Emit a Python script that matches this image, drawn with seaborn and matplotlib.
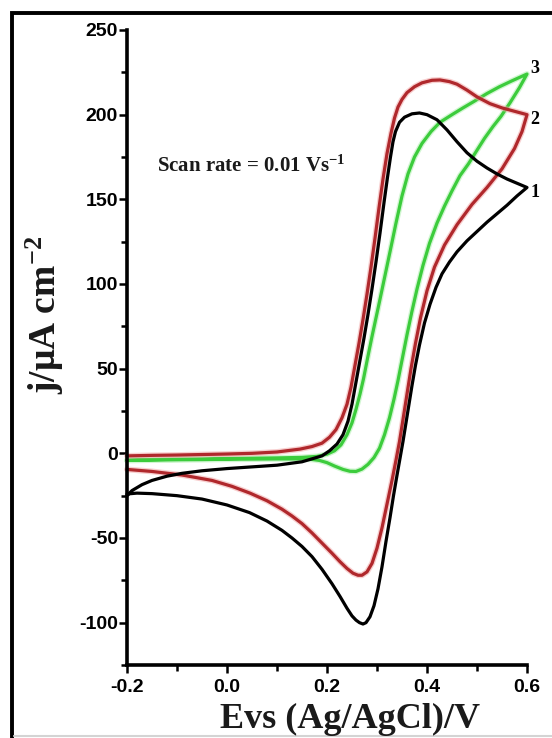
import matplotlib
matplotlib.use("Agg")
import matplotlib.pyplot as plt
import seaborn as sns
from matplotlib.ticker import MultipleLocator, FormatStrFormatter
from matplotlib.patches import Rectangle
from matplotlib.lines import Line2D

# ---- cyclic voltammograms (E in V vs Ag/AgCl, j in uA cm^-2) ----
# curve 1 (black)
e1_fwd = [-0.2, -0.19, -0.17, -0.15, -0.12, -0.09, -0.05, 0.0, 0.05, 0.1, 0.15, 0.19,
          0.205, 0.22, 0.232, 0.242, 0.25, 0.258, 0.266, 0.274, 0.282, 0.29, 0.298,
          0.306, 0.314, 0.321, 0.327, 0.332, 0.337, 0.345, 0.355, 0.37, 0.385, 0.40,
          0.42, 0.44, 0.46, 0.48, 0.50, 0.52, 0.54, 0.56, 0.58, 0.6]
j1_fwd = [-25, -22, -18.5, -16, -13.5, -11.8, -10.3, -9, -8, -7, -5, -1.5,
          1.5, 5.5, 11, 19, 29, 42, 55, 68, 82, 97, 113,
          130, 148, 163, 175, 184, 190, 195.5, 198.5, 200.5, 201, 200,
          197, 191, 184, 177.5, 172.5, 168.5, 165, 162, 159.5, 157]
e1_rev = [0.6, 0.58, 0.56, 0.54, 0.52, 0.5, 0.48, 0.46, 0.445, 0.43, 0.418, 0.406,
          0.395, 0.385, 0.377, 0.37, 0.364, 0.358, 0.352, 0.346, 0.34, 0.333, 0.326,
          0.318, 0.31, 0.302, 0.294, 0.286, 0.278, 0.272, 0.265, 0.258, 0.25, 0.24,
          0.226, 0.21, 0.19, 0.17, 0.15, 0.13, 0.11, 0.08, 0.045, 0.0, -0.05, -0.1,
          -0.15, -0.18, -0.2]
j1_rev = [157, 152, 146.5, 141.5, 136.5, 131, 125.5, 119, 113, 106, 98, 88,
          77, 64, 52, 40, 29, 18, 7, -3, -13, -25, -38,
          -52, -67, -80, -90, -96.5, -100, -100.8, -100, -98.5, -96, -91.5,
          -84.5, -77, -68.5, -61, -55, -50, -45.5, -40, -35, -30.5, -27, -25,
          -23.8, -23.5, -24]

# curve 2 (red)
e2_fwd = [-0.2, -0.15, -0.1, -0.05, 0.0, 0.05, 0.1, 0.146, 0.17, 0.19, 0.205, 0.218,
          0.23, 0.24, 0.248, 0.256, 0.264, 0.272, 0.28, 0.288, 0.296, 0.304, 0.312,
          0.32, 0.328, 0.335, 0.342, 0.35, 0.36, 0.375, 0.39, 0.41, 0.426, 0.445,
          0.46, 0.48, 0.5, 0.526, 0.55, 0.575, 0.6]
j2_fwd = [-1.5, -1.2, -1.0, -0.7, -0.4, 0.0, 0.8, 2.5, 4, 6, 9.5, 14,
          21, 29, 39, 52, 65, 79, 94, 110, 127, 145, 162,
          177, 189, 198, 204.5, 209, 213, 216.5, 218.8, 220.3, 220.5, 219.5,
          218, 214.5, 210.5, 206.5, 204, 202, 200]
e2_rev = [0.6, 0.59, 0.575, 0.55, 0.52, 0.49, 0.46, 0.435, 0.415, 0.4, 0.387, 0.377,
          0.368, 0.36, 0.352, 0.345, 0.338, 0.33, 0.32, 0.31, 0.3, 0.29, 0.28,
          0.27, 0.262, 0.252, 0.24, 0.226, 0.21, 0.19, 0.17, 0.15, 0.13, 0.11,
          0.08, 0.046, 0.01, -0.03, -0.09, -0.15, -0.2]
j2_rev = [200, 190, 180, 168, 157, 147, 135, 123, 110, 96, 80, 65,
          50, 35, 20, 7, -4, -16, -30, -44, -56, -65, -70,
          -72, -72, -70.8, -68, -64, -59, -53, -47, -41.5, -37, -33,
          -28, -23.5, -19.5, -16, -12.8, -10.7, -9.5]

# curve 3 (green)
e3_fwd = [-0.2, -0.15, -0.1, -0.05, 0.0, 0.05, 0.1, 0.15, 0.18, 0.2, 0.215, 0.228,
          0.24, 0.25, 0.258, 0.266, 0.273, 0.281, 0.29, 0.298, 0.306, 0.316, 0.326,
          0.338, 0.35, 0.362, 0.375, 0.39, 0.408, 0.426, 0.45, 0.472, 0.495, 0.52,
          0.545, 0.57, 0.6]
j3_fwd = [-4, -3.7, -3.5, -3.3, -3.1, -2.9, -2.7, -2.4, -1.8, -0.5, 1.5, 5,
          11, 18, 26, 35, 44, 56, 69, 80, 91, 105, 119,
          136, 152, 165, 175, 183, 190, 195.5, 200, 204, 208, 212.5,
          216.5, 220, 224]
e3_rev = [0.6, 0.585, 0.566, 0.548, 0.532, 0.515, 0.5, 0.483, 0.466, 0.45, 0.435, 0.42,
          0.405, 0.392, 0.38, 0.37, 0.36, 0.35, 0.342, 0.334, 0.325, 0.315, 0.305,
          0.294, 0.282, 0.27, 0.258, 0.246, 0.232, 0.215, 0.2, 0.185, 0.17, 0.15,
          0.1, 0.05, 0.0, -0.05, -0.1, -0.15, -0.2]
j3_rev = [224, 216, 207, 199, 193, 186, 179, 171, 164, 155, 146, 136,
          124, 111, 97, 84, 70, 55, 43, 32, 21, 11, 3,
          -2.5, -6.5, -9.3, -10.7, -10.6, -9.5, -7.5, -5.5, -4.2, -3.6, -3.3,
          -3.3, -3.4, -3.5, -3.7, -3.8, -4.0, -4.2]

curve_labels = ["1", "2", "3"]
curve_label_pos = [(0.607, 154), (0.607, 197), (0.607, 227)]
x_ticks = [-0.2, 0.0, 0.2, 0.4, 0.6]
y_ticks = [-100, -50, 0, 50, 100, 150, 200, 250]

# ---- style ----
sns.set_theme(style="white")
plt.rcParams["font.family"] = ["Liberation Sans", "DejaVu Sans"]
plt.rcParams["font.weight"] = "bold"
plt.rcParams["axes.unicode_minus"] = False
plt.rcParams["mathtext.fontset"] = "custom"
plt.rcParams["mathtext.rm"] = "Liberation Serif:bold"
plt.rcParams["mathtext.bf"] = "Liberation Serif:bold"
plt.rcParams["mathtext.it"] = "Liberation Serif:bold"
serif = ["Liberation Serif", "DejaVu Serif"]

W, H = 552, 738
fig = plt.figure(figsize=(W / 100, H / 100), dpi=100)
fig.patch.set_facecolor("white")
ax = fig.add_axes([127 / W, 1 - 665 / H, 400 / W, 635 / H])
ax.set_facecolor("white")

curves = [
    (e3_fwd + e3_rev, j3_fwd + j3_rev, "#3ccc3c", "#aef0ae"),
    (e2_fwd + e2_rev, j2_fwd + j2_rev, "#b0282c", "#f2a8a8"),
    (e1_fwd + e1_rev, j1_fwd + j1_rev, "#000000", None),
]
for e, j, col, halo in curves:
    if halo is not None:
        sns.lineplot(x=e, y=j, sort=False, estimator=None, ax=ax, color=halo,
                     linewidth=4.2, alpha=0.55, clip_on=False)
    sns.lineplot(x=e, y=j, sort=False, estimator=None, ax=ax, color=col,
                 linewidth=2.3, clip_on=False)

ax.set_xlim(-0.2, 0.6)
ax.set_ylim(-125, 250)
ax.set_xlabel("")
ax.set_ylabel("")

ax.xaxis.set_major_locator(plt.FixedLocator(x_ticks))
ax.xaxis.set_minor_locator(MultipleLocator(0.1))
ax.xaxis.set_major_formatter(FormatStrFormatter("%.1f"))
ax.yaxis.set_major_locator(plt.FixedLocator(y_ticks))
ax.yaxis.set_minor_locator(MultipleLocator(25))
ax.yaxis.set_major_formatter(FormatStrFormatter("%d"))

for side in ["top", "right"]:
    ax.spines[side].set_visible(False)
for side in ["left", "bottom"]:
    ax.spines[side].set_linewidth(2.6)
    ax.spines[side].set_color("black")

ax.tick_params(axis="both", which="major", direction="out", length=5.5, width=1.8,
               color="black", labelsize=14, labelcolor="black")
ax.tick_params(axis="both", which="minor", direction="out", length=4.5, width=1.8,
               color="black")
ax.tick_params(axis="x", which="major", pad=4.5)
ax.tick_params(axis="y", which="major", pad=1)
ax.tick_params(which="both", bottom=True, left=True, top=False, right=False)

# curve numbers at the switching potential
for lab, (lx, ly) in zip(curve_labels, curve_label_pos):
    ax.text(lx, ly, lab, ha="left", va="center", fontsize=13, family=serif,
            weight="bold", color="black", clip_on=False)

ax.text(-0.14, 166, "Scan rate = 0.01 Vs$^{-1}$", ha="left", va="baseline",
        fontsize=15, family=serif, weight="bold", color="#1a1a1a")

fig.text(350 / W, 1 - 728 / H, "Evs (Ag/AgCl)/V", ha="center", va="baseline",
         fontsize=26, family=serif, weight="bold", color="#1a1a1a")
fig.text(45 / W, 1 - 315 / H, "j/\u03bcA cm$^{-2}$", rotation=90, ha="center",
         va="center", fontsize=27, family=serif, weight="bold", color="#1a1a1a")

# frame around the figure
fig.add_artist(Rectangle((12 / W, -0.1), 1.2, (1 - 13 / H) + 0.1,
                         transform=fig.transFigure, fill=False, lw=2.8,
                         ec="black", clip_on=False))
fig.add_artist(Line2D([14 / W, 1.0], [1 - 736 / H, 1 - 736 / H],
                      transform=fig.transFigure, color="#d4d4d4", lw=1.5))

fig.savefig("out.png", dpi=100, facecolor="white")
